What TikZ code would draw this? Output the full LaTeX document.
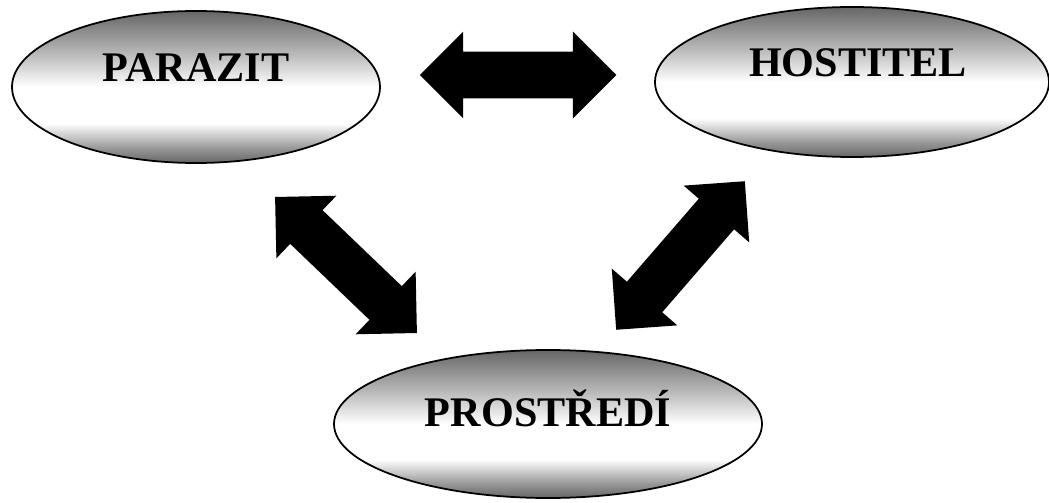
\documentclass[tikz,border=0pt]{standalone}
\usepackage{fontspec}
\setmainfont{Liberation Serif}
\usetikzlibrary{shapes.geometric,shapes.arrows}
\pgfdeclareverticalshading{ovalshade}{100bp}{color(0bp)=(black!60); color(25bp)=(black!60); color(30bp)=(black!40); color(38bp)=(white); color(50bp)=(white); color(62bp)=(black!30); color(75bp)=(black!60); color(100bp)=(black!60)}
\tikzset{
  oval/.style={ellipse, draw, line width=1pt, shading=ovalshade, inner sep=0pt},
  word/.style={font=\fontsize{24}{28}\selectfont\bfseries},
  biarrow/.style={double arrow, fill=black, inner xsep=0pt, inner ysep=0.46cm,
    minimum height=3.93cm, minimum width=1.72cm, double arrow head extend=0.4cm}
}

\begin{document}
\begin{tikzpicture}
        \useasboundingbox (0,0) rectangle (20.98,10.04);
        \node[oval, minimum width=7.36cm, minimum height=3.04cm] (parazit) at (3.92, 8.30) {};
        \node[oval, minimum width=7.88cm, minimum height=3.00cm] (hostitel) at (17.04, 8.40) {};
        \node[oval, minimum width=8.56cm, minimum height=2.96cm] (prostredi) at (10.96, 1.56) {};
        \node[word] (parazittext) at ([yshift=0.38cm]parazit.center) {PARAZIT};
        \node[word] (hostiteltext) at ([xshift=0.12cm,yshift=0.38cm]hostitel.center) {HOSTITEL};
        \node[word] (prostreditext) at ([yshift=0.32cm]prostredi.center) {PROSTŘEDÍ};
        \node[biarrow] (parhost) at (10.36, 8.54) {};
        \node[biarrow, rotate=-43.8] (parprost) at (6.92, 4.74) {};
        \node[biarrow, rotate=49.1] (hostprost) at (13.61, 4.93) {};
    \end{tikzpicture}
\end{document}
